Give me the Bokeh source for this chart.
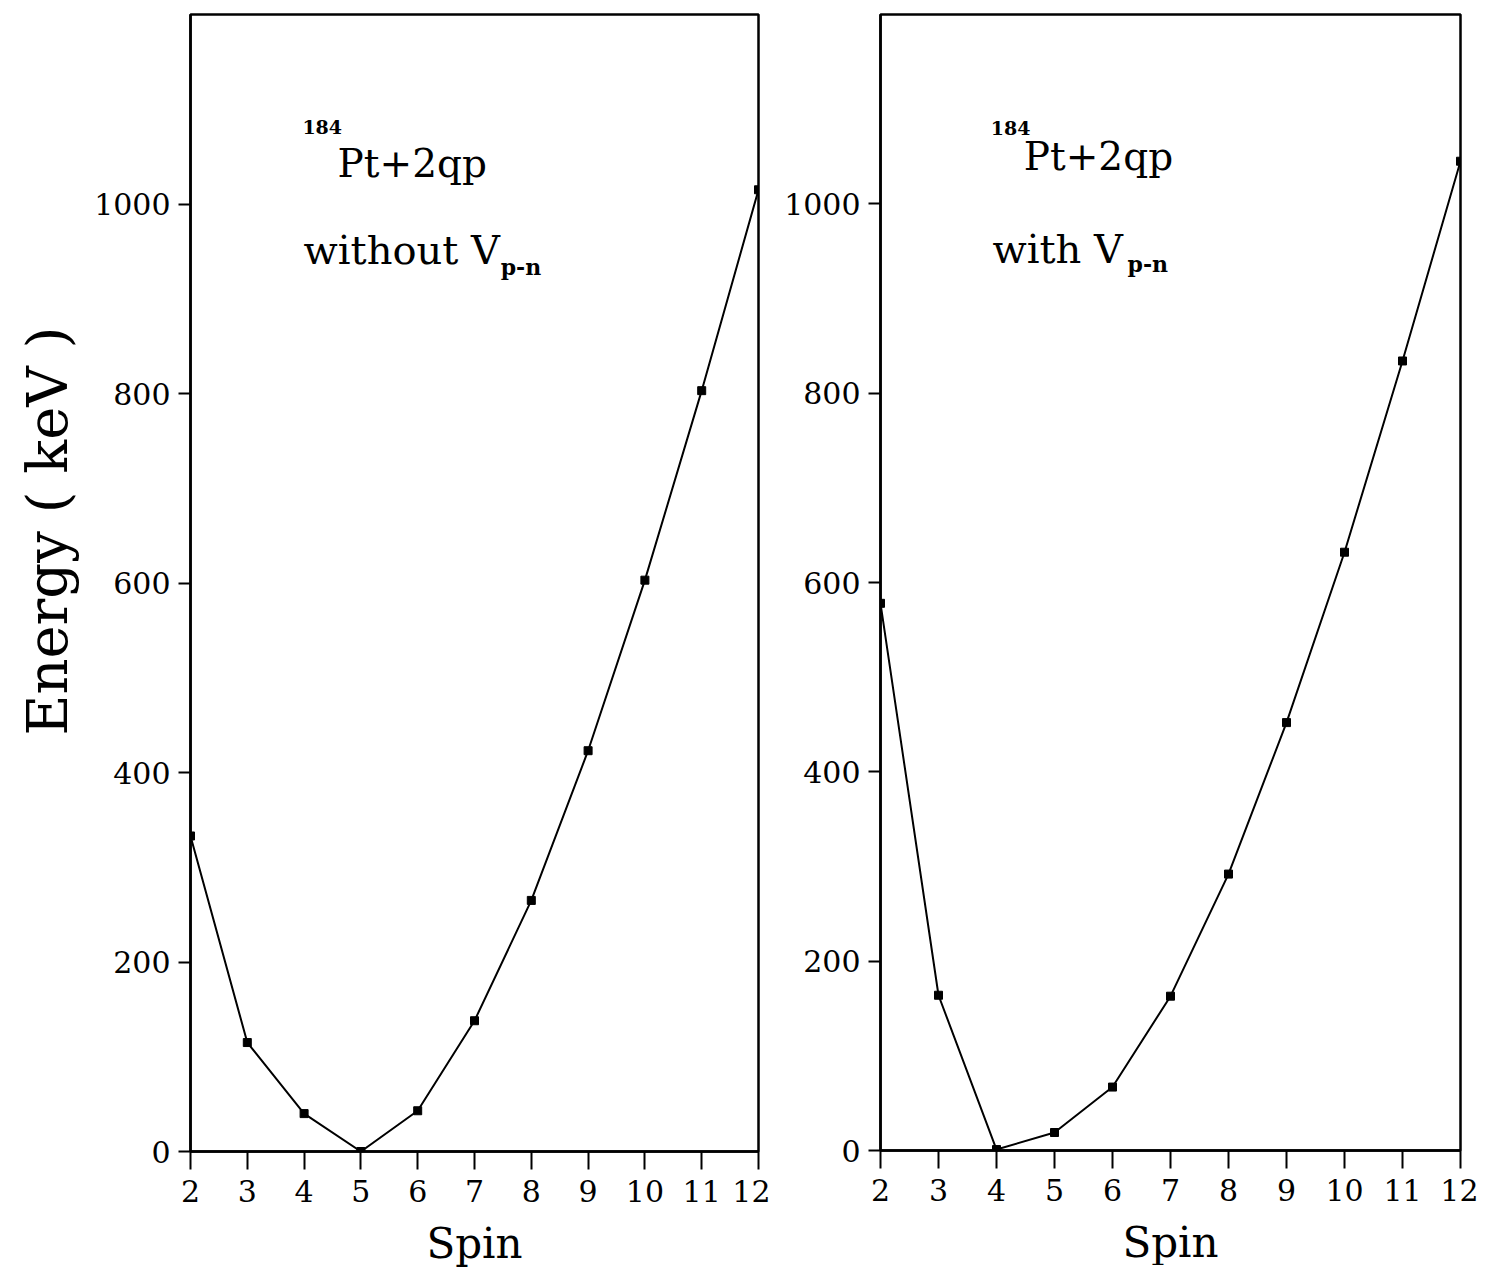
from bokeh.plotting import figure
from bokeh.layouts import row
from bokeh.models import Range1d, FixedTicker, Label, Title
from bokeh.embed import file_html
from bokeh.resources import INLINE

spin = [2, 3, 4, 5, 6, 7, 8, 9, 10, 11, 12]
energy_without = [333, 115, 40, 0, 43, 138, 265, 423, 603, 803, 1015]
energy_with = [578, 164, 1, 19, 67, 163, 292, 452, 632, 834, 1045]
x_ticks = [2, 3, 4, 5, 6, 7, 8, 9, 10, 11, 12]
y_ticks = [0, 200, 400, 600, 800, 1000]

FONT = "DejaVu Serif"


def make_panel(yvals, fw, fh, mbl, mbr, mbt, mbb):
    p = figure(frame_width=fw, frame_height=fh, min_border_left=mbl,
               min_border_right=mbr, min_border_top=mbt, min_border_bottom=mbb,
               x_range=Range1d(2, 12), y_range=Range1d(0, 1200),
               output_backend="svg", toolbar_location=None)
    p.grid.visible = False
    p.outline_line_color = "black"
    p.outline_line_width = 2.5
    p.background_fill_color = "white"
    p.border_fill_color = "white"
    p.xaxis.ticker = FixedTicker(ticks=x_ticks)
    p.yaxis.ticker = FixedTicker(ticks=y_ticks)
    for ax in (p.xaxis[0], p.yaxis[0]):
        ax.axis_line_width = 2.5
        ax.axis_line_color = "black"
        ax.major_tick_line_width = 2
        ax.major_tick_line_color = "black"
        ax.major_tick_in = 0
        ax.minor_tick_line_color = None
        ax.major_label_text_font = FONT
        ax.major_label_text_font_size = "30px"
        ax.major_label_text_color = "black"
        ax.axis_label_text_font = FONT
        ax.axis_label_text_font_style = "normal"
        ax.axis_label_text_color = "black"
    p.xaxis.major_tick_out = 18
    p.yaxis.major_tick_out = 12
    p.xaxis.major_label_standoff = 10
    p.yaxis.major_label_standoff = 8
    p.xaxis.axis_label = "Spin"
    p.xaxis.axis_label_text_font_size = "42px"
    p.xaxis.axis_label_standoff = 14
    p.line(spin, yvals, line_color="black", line_width=2)
    p.scatter(spin, yvals, marker="square", size=8, fill_color="black",
              line_color="black")
    return p


p1 = make_panel(energy_without, 568, 1137, 190, 12, 14, 110)
p2 = make_panel(energy_with, 580, 1136, 110, 18, 10, 119)

p1.add_layout(Title(text="Energy ( keV )", align="left", offset=416,
                    text_font=FONT, text_font_size="56px",
                    text_font_style="normal", text_color="black",
                    standoff=24), "left")


def add_text(p, x, y, text, size, bold=False):
    p.add_layout(Label(x=x, y=y, text=text, text_font=FONT,
                       text_font_size=size, text_color="black",
                       text_font_style="bold" if bold else "normal",
                       text_baseline="alphabetic", text_align="left"))


add_text(p1, 3.97, 1081, "184", "19px", True)
add_text(p1, 4.59, 1043, "Pt+2qp", "39px")
add_text(p1, 3.99, 951, "without V", "40px")
add_text(p1, 7.46, 933, "p-n", "22px", True)

add_text(p2, 3.90, 1080, "184", "19px", True)
add_text(p2, 4.47, 1050, "Pt+2qp", "39px")
add_text(p2, 3.93, 952, "with V", "40px")
add_text(p2, 6.26, 936, "p-n", "22px", True)

layout = row(p1, p2)
open("out.html", "w").write(file_html(layout, INLINE))
